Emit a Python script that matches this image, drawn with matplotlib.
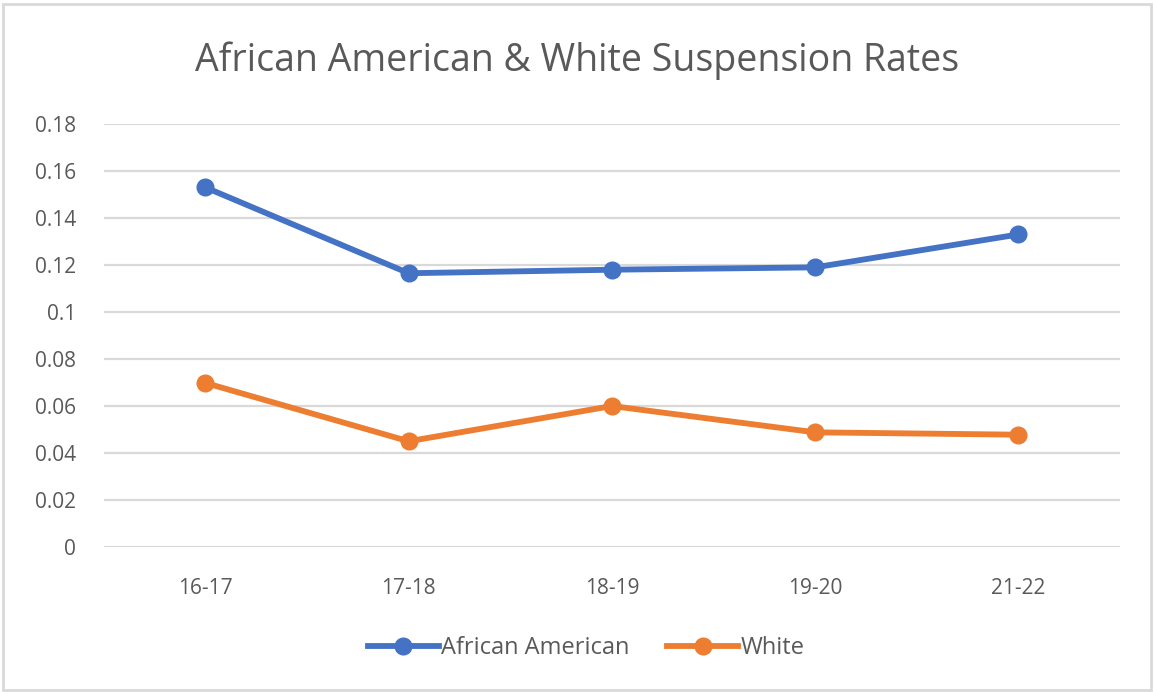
import matplotlib.pyplot as plt
from matplotlib.patches import Rectangle

years = ["16-17", "17-18", "18-19", "19-20", "21-22"]
african_american = [0.153, 0.1165, 0.118, 0.119, 0.133]
white = [0.0698, 0.045, 0.060, 0.0488, 0.0478]

y_ticks = [0, 0.02, 0.04, 0.06, 0.08, 0.1, 0.12, 0.14, 0.16, 0.18]
y_tick_labels = ["0", "0.02", "0.04", "0.06", "0.08", "0.1", "0.12", "0.14", "0.16", "0.18"]

plt.rcParams["font.family"] = ["Open Sans", "DejaVu Sans"]
text_color = "#595959"
grid_color = "#D9D9D9"

fig = plt.figure(figsize=(11.54, 6.92), dpi=100)
ax = fig.add_axes([0.090, 0.2095, 0.8805, 0.6113])

x = list(range(len(years)))
ax.plot(x, african_american, color="#4472C4", linewidth=4.2, marker="o",
        markersize=12, label="African American", zorder=3)
ax.plot(x, white, color="#ED7D31", linewidth=4.2, marker="o",
        markersize=12, label="White", zorder=3)

ax.set_xlim(-0.5, len(years) - 0.5)
ax.set_ylim(0, 0.18)
ax.set_xticks(x)
ax.set_xticklabels(years)
ax.set_yticks(y_ticks)
ax.set_yticklabels(y_tick_labels)
ax.tick_params(axis="both", length=0, labelsize=15, colors=text_color)
ax.tick_params(axis="x", pad=22)
ax.tick_params(axis="y", pad=20)
for lbl in ax.get_yticklabels():
    lbl.set_horizontalalignment("right")

ax.grid(axis="y", color=grid_color, linewidth=1.6)
ax.set_axisbelow(True)
for s in ax.spines.values():
    s.set_visible(False)

fig.text(0.5, 0.913, "African American & White Suspension Rates",
         ha="center", va="center", fontsize=27, color=text_color)

leg = fig.legend(loc="center", bbox_to_anchor=(0.508, 0.063), ncol=2,
                 frameon=False, fontsize=17, handlelength=3.0,
                 handletextpad=0.1, columnspacing=1.6)
for t in leg.get_texts():
    t.set_color(text_color)

# chart frame
fig.patches.append(Rectangle((0.003, 0.003), 0.994, 0.991, transform=fig.transFigure,
                             fill=False, edgecolor="#D9D9D9", linewidth=2))

fig.savefig("out.png", dpi=100)
